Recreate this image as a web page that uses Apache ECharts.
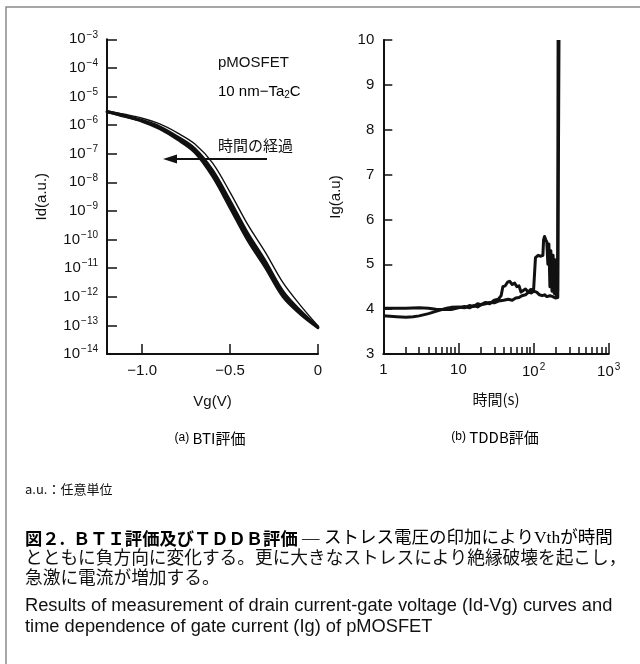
<!DOCTYPE html>
<html>
<head>
<meta charset="utf-8">
<script src="https://cdn.jsdelivr.net/npm/echarts@6/dist/echarts.min.js"></script>
<style>
html,body{margin:0;padding:0;background:#fff;}
#c{width:640px;height:664px;}
</style>
</head>
<body>
<div id="c"></div>
<script>
// (a) Id-Vg curves of the pMOSFET during BTI stress
const vg = [-1.2, -1.1, -1.0, -0.9, -0.8, -0.7, -0.6, -0.5, -0.4, -0.3, -0.2, -0.1, 0];
// stressed curves (dense band, shifted to negative Vg)
const idStressA = [2.88e-6, 2.0e-6, 1.35e-6, 7.41e-7, 3.16e-7, 1.10e-7, 1.62e-8, 1.26e-9, 9.33e-11, 1.05e-11, 1.0e-12, 2.45e-13, 8.13e-14];
const idStressB = [2.95e-6, 2.09e-6, 1.41e-6, 8.13e-7, 3.55e-7, 1.29e-7, 2.09e-8, 1.70e-9, 1.26e-10, 1.38e-11, 1.26e-12, 2.82e-13, 8.51e-14];
const idStressC = [3.02e-6, 2.19e-6, 1.48e-6, 8.91e-7, 3.98e-7, 1.51e-7, 2.69e-8, 2.29e-9, 1.70e-10, 1.82e-11, 1.58e-12, 3.24e-13, 8.91e-14];
// initial curve
const idInitial = [3.16e-6, 2.40e-6, 1.74e-6, 1.10e-6, 5.37e-7, 2.19e-7, 4.79e-8, 4.47e-9, 3.39e-10, 3.63e-11, 3.16e-12, 5.01e-13, 9.55e-14];
const vgTicks = [-1.0, -0.5, 0];

// (b) gate current vs. stress time (TDDB)
const timeA = [1,1.5,2,3,4,5,6,7,8,10,12,14,16,18,20,23,26,30,34,37,39,42,45,48,52,56,60,64,68,72,78,85,92,100,104,106,115,125,133,136,140,145,150,155,160,165,170,176,182,188,194,200,205,209,212];
const igA = [4.02,4.02,4.02,4.03,4.02,4.0,3.99,4.02,4.04,4.05,4.03,4.08,4.06,4.12,4.1,4.15,4.12,4.2,4.22,4.3,4.5,4.52,4.6,4.62,4.55,4.58,4.5,4.52,4.38,4.42,4.45,4.38,4.44,4.42,4.45,5.15,5.2,5.18,5.2,5.55,5.62,5.55,5.5,5.0,5.45,4.5,5.3,4.4,5.2,4.35,5.1,4.3,5.0,4.4,10];
const timeB = [1,1.5,2,2.5,3,4,5,6,7,8,10,12,14,16,18,20,23,26,30,34,40,46,52,58,64,70,78,86,94,100,110,120,130,140,150,165,180,195,210,216,218];
const igB = [3.85,3.83,3.82,3.83,3.85,3.9,3.95,3.99,4.0,3.99,4.03,4.06,4.03,4.08,4.05,4.1,4.12,4.15,4.14,4.18,4.2,4.22,4.2,4.25,4.26,4.3,4.32,4.38,4.36,4.4,4.38,4.32,4.3,4.32,4.28,4.3,4.28,4.25,4.26,4.25,10];
const timeMinor = [2,3,4,5,6,7,8,9,20,30,40,50,60,70,80,90,200,300,400,500,600,700,800,900];

const SANS = "'Liberation Sans', Arial, 'Noto Sans CJK JP', sans-serif";
const JP = "'Noto Sans CJK JP', 'Liberation Sans', sans-serif";
const SERIF = "'Liberation Serif', 'Noto Sans CJK JP', serif";
const INK = '#111';

const zip = (xs, ys) => xs.map((x, i) => [x, ys[i]]);
const expRich = {
  b: { fontFamily: SANS, fontSize: 15, color: INK },
  e: { fontFamily: SANS, fontSize: 10, color: INK, padding: [0, 0, 9, 1] }
};

function curve(ys, width, idx) {
  return {
    type: 'line', xAxisIndex: 0, yAxisIndex: 0, data: zip(vg, ys),
    smooth: 0.35, symbol: 'none', silent: true, z: idx,
    lineStyle: { color: INK, width: width, cap: 'round', join: 'round' }
  };
}

const chart = echarts.init(document.getElementById('c'), null, { renderer: 'canvas' });

chart.setOption({
  animation: false,
  backgroundColor: '#fff',
  grid: [
    { left: 107, top: 39.3, width: 211, height: 314.7 },
    { left: 383.3, top: 40, width: 225.4, height: 314 }
  ],
  xAxis: [
    {
      type: 'value', gridIndex: 0, min: -1.2, max: 0, position: 'bottom',
      name: 'Vg(V)', nameLocation: 'middle', nameGap: 40,
      nameTextStyle: { fontFamily: SANS, fontSize: 15, color: INK },
      axisLine: { onZero: false, lineStyle: { color: INK, width: 2 } },
      axisTick: { inside: true, length: 10, customValues: vgTicks, lineStyle: { color: INK, width: 1.5 } },
      axisLabel: {
        customValues: vgTicks, margin: 9, fontFamily: SANS, fontSize: 15, color: INK,
        formatter: v => (v === 0 ? '0' : '\u2212' + Math.abs(v).toFixed(1))
      },
      splitLine: { show: false }
    },
    {
      type: 'log', gridIndex: 1, min: 1, max: 1000, logBase: 10, interval: 1, position: 'bottom',
      name: '時間(s)', nameLocation: 'middle', nameGap: 38,
      nameTextStyle: { fontFamily: JP, fontSize: 15, color: INK },
      axisLine: { onZero: false, lineStyle: { color: INK, width: 2 } },
      axisTick: { inside: true, length: 11, lineStyle: { color: INK, width: 1.5 } },
      axisLabel: {
        margin: 8, rich: expRich,
        formatter: v => {
          const n = Math.round(Math.log10(v));
          if (n === 0) return '{b|1}';
          if (n === 1) return '{b|10}';
          return '{b|10}{e|' + n + '}';
        }
      },
      splitLine: { show: false }, minorTick: { show: false }
    },
    {
      type: 'log', gridIndex: 1, min: 1, max: 1000, logBase: 10, interval: 1, position: 'bottom',
      axisLine: { show: false, onZero: false },
      axisTick: { inside: true, length: 7, customValues: timeMinor, lineStyle: { color: INK, width: 1.5 } },
      axisLabel: { show: false },
      splitLine: { show: false }
    }
  ],
  yAxis: [
    {
      type: 'log', gridIndex: 0, min: 1e-14, max: 1e-3, logBase: 10, interval: 1, position: 'left',
      name: 'Id(a.u.)', nameLocation: 'middle', nameGap: 58, nameRotate: 90,
      nameTextStyle: { fontFamily: SANS, fontSize: 15, color: INK },
      axisLine: { show: true, onZero: false, lineStyle: { color: INK, width: 2 } },
      axisTick: { show: true, inside: true, length: 10, lineStyle: { color: INK, width: 1.5 } },
      axisLabel: {
        margin: 9, rich: expRich,
        formatter: v => '{b|10}{e|\u2212' + Math.abs(Math.round(Math.log10(v))) + '}'
      },
      splitLine: { show: false }, minorTick: { show: false }
    },
    {
      type: 'value', gridIndex: 1, min: 3, max: 10, interval: 1, position: 'left',
      name: 'Ig(a.u)', nameLocation: 'middle', nameGap: 40, nameRotate: 90,
      nameTextStyle: { fontFamily: SANS, fontSize: 15, color: INK },
      axisLine: { show: true, onZero: false, lineStyle: { color: INK, width: 2 } },
      axisTick: { show: true, inside: true, length: 9, lineStyle: { color: INK, width: 1.5 } },
      axisLabel: { margin: 9, fontFamily: SANS, fontSize: 15, color: INK },
      splitLine: { show: false }
    }
  ],
  series: [
    curve(idInitial, 1.4, 2),
    curve(idStressA, 2.6, 3),
    curve(idStressB, 2.6, 3),
    curve(idStressC, 2.6, 3),
    {
      type: 'line', xAxisIndex: 1, yAxisIndex: 1, data: zip(timeB, igB),
      symbol: 'none', silent: true,
      lineStyle: { color: INK, width: 3, join: 'round' }
    },
    {
      type: 'line', xAxisIndex: 1, yAxisIndex: 1, data: zip(timeA, igA),
      symbol: 'none', silent: true,
      lineStyle: { color: INK, width: 3, join: 'round' }
    }
  ],
  graphic: [
    { type: 'rect', silent: true, z: -10, shape: { x: 6, y: 7, width: 700, height: 700 },
      style: { fill: 'none', stroke: '#8a8a8a', lineWidth: 1.5 } },
    { type: 'text', silent: true, x: 218, y: 63,
      style: { text: 'pMOSFET', font: '15px ' + SANS, fill: INK, verticalAlign: 'middle' } },
    { type: 'text', silent: true, x: 218, y: 92,
      style: {
        text: '{m|10 nm\u2212Ta}{s|2}{m|C}', verticalAlign: 'middle',
        rich: {
          m: { fontFamily: SANS, fontSize: 15, color: INK },
          s: { fontFamily: SANS, fontSize: 10, color: INK, padding: [6, 0, 0, 0] }
        }
      } },
    { type: 'text', silent: true, x: 218, y: 145,
      style: { text: '時間の経過', font: '15px ' + JP, fill: INK, verticalAlign: 'middle' } },
    { type: 'line', silent: true, shape: { x1: 267, y1: 159, x2: 174, y2: 159 },
      style: { stroke: INK, lineWidth: 2 } },
    { type: 'polygon', silent: true, shape: { points: [[163, 159], [177, 154.5], [177, 163.5]] },
      style: { fill: INK } },
    { type: 'text', silent: true, x: 210, y: 438,
      style: {
        text: '{p|(a)}{t| BTI評価}', align: 'center', verticalAlign: 'middle',
        rich: {
          p: { fontFamily: SANS, fontSize: 12, color: INK },
          t: { fontFamily: JP, fontSize: 15, color: INK }
        }
      } },
    { type: 'text', silent: true, x: 495, y: 437,
      style: {
        text: '{p|(b)}{t| TDDB評価}', align: 'center', verticalAlign: 'middle',
        rich: {
          p: { fontFamily: SANS, fontSize: 12, color: INK },
          t: { fontFamily: JP, fontSize: 15, color: INK }
        }
      } },
    { type: 'text', silent: true, x: 25, y: 489,
      style: { text: 'a.u.：任意単位', font: '13px ' + JP, fill: INK, verticalAlign: 'middle' } },
    { type: 'text', silent: true, x: 25, y: 538,
      style: {
        text: '{h|図２.  ＢＴＩ評価及びＴＤＤＢ評価}{n| — ストレス電圧の印加によりVthが時間}', verticalAlign: 'middle',
        rich: {
          h: { fontFamily: JP, fontWeight: 'bold', fontSize: 17.3, color: INK },
          n: { fontFamily: SERIF, fontSize: 17.5, color: INK }
        }
      } },
    { type: 'text', silent: true, x: 25, y: 559,
      style: { text: 'とともに負方向に変化する。更に大きなストレスにより絶縁破壊を起こし，',
        font: '17.7px ' + SERIF, fill: INK, verticalAlign: 'middle' } },
    { type: 'text', silent: true, x: 25, y: 579,
      style: { text: '急激に電流が増加する。', font: '17.7px ' + SERIF, fill: INK, verticalAlign: 'middle' } },
    { type: 'text', silent: true, x: 25, y: 606,
      style: { text: 'Results of measurement of drain current-gate voltage (Id-Vg) curves and',
        font: '18.3px ' + SANS, fill: INK, verticalAlign: 'middle' } },
    { type: 'text', silent: true, x: 25, y: 627,
      style: { text: 'time dependence of gate current (Ig) of pMOSFET',
        font: '18.3px ' + SANS, fill: INK, verticalAlign: 'middle' } }
  ]
});
</script>
</body>
</html>
